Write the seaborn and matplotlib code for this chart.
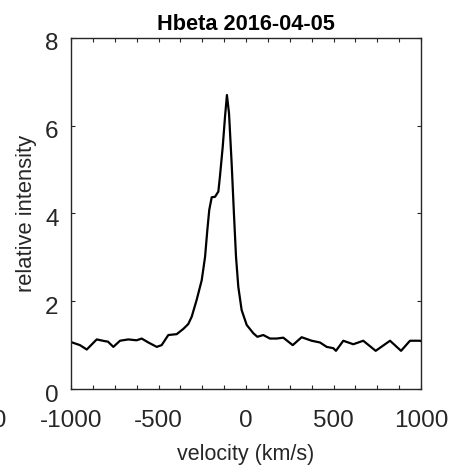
import numpy as np
import pandas as pd
import seaborn as sns
import matplotlib.pyplot as plt
from matplotlib.ticker import MultipleLocator
from matplotlib.transforms import ScaledTranslation

# velocity (km/s) and relative intensity
velocity = [-1000, -949, -910, -853, -806, -789, -758, -720, -673, -625,
            -596, -558, -510, -482, -444, -396, -358, -330, -310, -282,
            -253, -234, -221, -210, -196, -177, -158, -149, -133, -120,
            -109, -97, -82, -69, -57, -44, -25, 4, 42, 65,
            99, 137, 175, 213, 267, 318, 375, 423, 461, 499,
            514, 556, 613, 670, 741, 823, 886, 937, 994, 1000]
intensity = [1.07, 1.00, 0.90, 1.13, 1.09, 1.08, 0.96, 1.10, 1.13, 1.11,
             1.15, 1.06, 0.96, 1.00, 1.23, 1.25, 1.37, 1.48, 1.65, 2.03,
             2.48, 3.01, 3.62, 4.08, 4.37, 4.38, 4.50, 4.84, 5.52, 6.20,
             6.70, 6.28, 5.14, 4.00, 3.01, 2.33, 1.80, 1.46, 1.27, 1.19,
             1.23, 1.15, 1.15, 1.17, 1.00, 1.18, 1.10, 1.06, 0.96, 0.93,
             0.87, 1.10, 1.02, 1.10, 0.87, 1.10, 0.87, 1.10, 1.10, 1.09]
title = 'Hbeta 2016-04-05'

sns.set_style('ticks')
plt.rcParams['font.family'] = ['Liberation Sans', 'DejaVu Sans']
plt.rcParams['axes.unicode_minus'] = False
gray = '#262626'

df = pd.DataFrame({'velocity': velocity, 'intensity': intensity})

fig = plt.figure(figsize=(4.65, 4.65), dpi=100)
ax = fig.add_axes([71/465, 76/465, 350/465, 351/465])
sns.lineplot(x='velocity', y='intensity', data=df, ax=ax, color='k', lw=1.6, sort=False)

ax.set(xlim=(-1000, 1000), ylim=(0, 8))
ax.xaxis.set_major_locator(MultipleLocator(500))
ax.xaxis.set_minor_locator(MultipleLocator(125))
ax.yaxis.set_major_locator(MultipleLocator(2))
ax.tick_params(which='both', direction='in', top=True, right=True, length=3,
               width=0.8, color=gray, labelcolor=gray)
ax.tick_params(axis='x', labelsize=17.5, pad=15)
ax.tick_params(axis='y', labelsize=17.5, pad=9)
for s in ax.spines.values():
    s.set_color(gray)
    s.set_linewidth(1.0)

# y tick labels sit a little below their ticks in the original
shift = ScaledTranslation(0, -4/100, fig.dpi_scale_trans)
for lab in ax.get_yticklabels():
    lab.set_transform(lab.get_transform() + shift)

ax.set_xlabel('velocity (km/s)', fontsize=15.5, color=gray, labelpad=9)
ax.set_ylabel('relative intensity', fontsize=15.8, color=gray, labelpad=6)
ax.set_title(title, fontsize=15.7, fontweight='bold', color='k', pad=6)

# clipped tick label from the neighbouring panel
fig.text(7/465, (465-426.7)/465, '1000', ha='right', va='baseline',
         fontsize=17.5, color=gray)

fig.savefig('out.png', dpi=100)
plt.close()
